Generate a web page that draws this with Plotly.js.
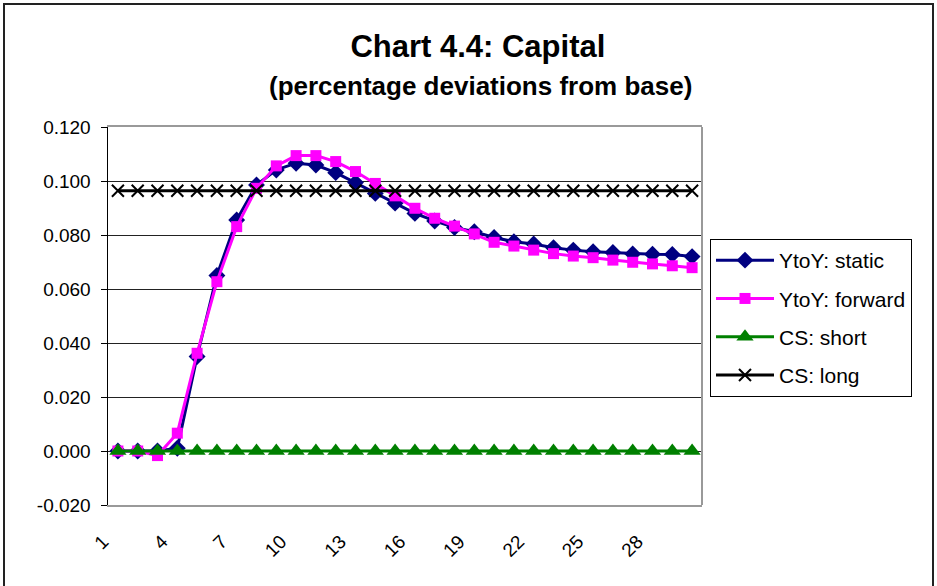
<!DOCTYPE html>
<html>
<head>
<meta charset="utf-8">
<script src="https://cdn.plot.ly/plotly-3.0.1.min.js"></script>
<style>
html,body{margin:0;padding:0;background:#fff;}
#chart{width:937px;height:586px;}
</style>
</head>
<body>
<div id="chart"></div>
<script>
// ---- data ----
var periods = [1,2,3,4,5,6,7,8,9,10,11,12,13,14,15,16,17,18,19,20,21,22,23,24,25,26,27,28,29,30];
var ytoyStatic = [0.000,0.000,0.000,0.001,0.035,0.065,0.0856,0.0985,0.1041,0.1066,0.1059,0.1031,0.0994,0.0954,0.0918,0.0880,0.0852,0.0828,0.0812,0.0791,0.0775,0.0767,0.0753,0.0744,0.0738,0.0735,0.0730,0.0729,0.0728,0.0720];
var ytoyForward = [0.000,0.000,-0.0017,0.0066,0.0362,0.0627,0.0831,0.0973,0.1056,0.1094,0.1094,0.1072,0.1035,0.0991,0.0945,0.0899,0.0862,0.0833,0.0804,0.0773,0.0759,0.0744,0.0731,0.0722,0.0716,0.0707,0.0699,0.0693,0.0686,0.0679];
var csShort = [0,0,0,0,0,0,0,0,0,0,0,0,0,0,0,0,0,0,0,0,0,0,0,0,0,0,0,0,0,0];
var csLong = [0.0964,0.0964,0.0964,0.0964,0.0964,0.0964,0.0964,0.0964,0.0964,0.0964,0.0964,0.0964,0.0964,0.0964,0.0964,0.0964,0.0964,0.0964,0.0964,0.0964,0.0964,0.0964,0.0964,0.0964,0.0964,0.0964,0.0964,0.0964,0.0964,0.0964];
var seriesNames = ["YtoY: static","YtoY: forward","CS: short","CS: long"];
var xTickVals = [1,4,7,10,13,16,19,22,25,28];
var xTickText = ["1","4","7","10","13","16","19","22","25","28"];
var yTickVals = [-0.02,0,0.02,0.04,0.06,0.08,0.10,0.12];
var yTickText = ["-0.020","0.000","0.020","0.040","0.060","0.080","0.100","0.120"];

var FONT = "Arial, 'Liberation Sans', sans-serif";

var traces = [
  {x: periods, y: ytoyStatic, name: seriesNames[0], type: "scatter", mode: "lines+markers", legendgroup: "a",
   line: {color: "#000080", width: 3}, marker: {symbol: "diamond", size: 13, color: "#000080"}},
  {x: periods, y: ytoyForward, name: seriesNames[1], type: "scatter", mode: "lines+markers", legendgroup: "b",
   line: {color: "#FF00FF", width: 3}, marker: {symbol: "square", size: 11, color: "#FF00FF"}},
  {x: periods, y: csShort, name: seriesNames[2], type: "scatter", mode: "lines+markers", legendgroup: "c",
   line: {color: "#008000", width: 3}, marker: {symbol: "triangle-up", size: 15, color: "#008000"}},
  {x: periods, y: csLong, name: seriesNames[3], type: "scatter", mode: "lines+markers", legendgroup: "d",
   line: {color: "#000000", width: 3}, marker: {symbol: "x-thin", size: 12, color: "#000000", line: {color: "#000000", width: 2}}}
];

var layout = {
  width: 937, height: 586,
  paper_bgcolor: "#ffffff", plot_bgcolor: "#ffffff",
  margin: {l: 108, r: 235, t: 127, b: 81, pad: 0},
  font: {family: FONT, color: "#000000", size: 19},
  title: {text: "<b>Chart 4.4: Capital</b>", font: {family: FONT, size: 31, color: "#000"},
          x: 0.510, xanchor: "center", xref: "container", y: 1 - 46/586, yanchor: "middle", yref: "container"},
  annotations: [
    {text: "<b>(percentage deviations from base)</b>", xref: "paper", yref: "paper", x: (480-108)/594, y: (505-86)/378,
     xanchor: "center", yanchor: "middle", showarrow: false, font: {family: FONT, size: 26, color: "#000"}}
  ],
  showlegend: true,
  legend: {x: (710-108)/594, xanchor: "left", y: (505-239)/378, yanchor: "top",
           bordercolor: "#000", borderwidth: 1, bgcolor: "#fff",
           font: {family: FONT, size: 21, color: "#000"}, tracegroupgap: 8, itemwidth: 58,
           traceorder: "grouped"},
  xaxis: {range: [0.5, 30.5], tickmode: "array", tickvals: xTickVals, ticktext: xTickText,
          tickangle: -45, ticks: "", showgrid: false, zeroline: false,
          showline: true, linecolor: "#999999", linewidth: 2, mirror: true,
          ticklabelshift: -15, ticklabelstandoff: 16,
          tickfont: {family: FONT, size: 19, color: "#000"}},
  xaxis2: {range: [0.5, 30.5], overlaying: "x", anchor: "free", position: 0.02/0.14,
           tick0: 0.5, dtick: 1, ticks: "outside", ticklen: 5, tickcolor: "#000", tickwidth: 1,
           showticklabels: false, showgrid: false, zeroline: false,
           showline: true, linecolor: "#000", linewidth: 1},
  yaxis: {range: [-0.02, 0.12], tickmode: "array", tickvals: yTickVals, ticktext: yTickText,
          ticks: "outside", ticklen: 6, tickcolor: "#000", tickwidth: 1,
          showgrid: true, gridcolor: "#222222", gridwidth: 1, zeroline: false,
          showline: true, linecolor: "#000", linewidth: 1.5, mirror: false,
          ticklabelstandoff: 6,
          tickfont: {family: FONT, size: 19, color: "#000"}},
  shapes: [
    {type: "line", xref: "paper", yref: "paper", x0: 1, x1: 1, y0: 0, y1: 1, line: {color: "#999999", width: 2}},
    {type: "rect", xref: "paper", yref: "paper", x0: (4-108)/594, x1: (933-108)/594, y0: -0.3, y1: (505-4)/378,
     line: {color: "#222", width: 2}, fillcolor: "rgba(0,0,0,0)", layer: "above"}
  ]
};

Plotly.newPlot("chart", traces, layout, {displayModeBar: false, staticPlot: true});
</script>
</body>
</html>
